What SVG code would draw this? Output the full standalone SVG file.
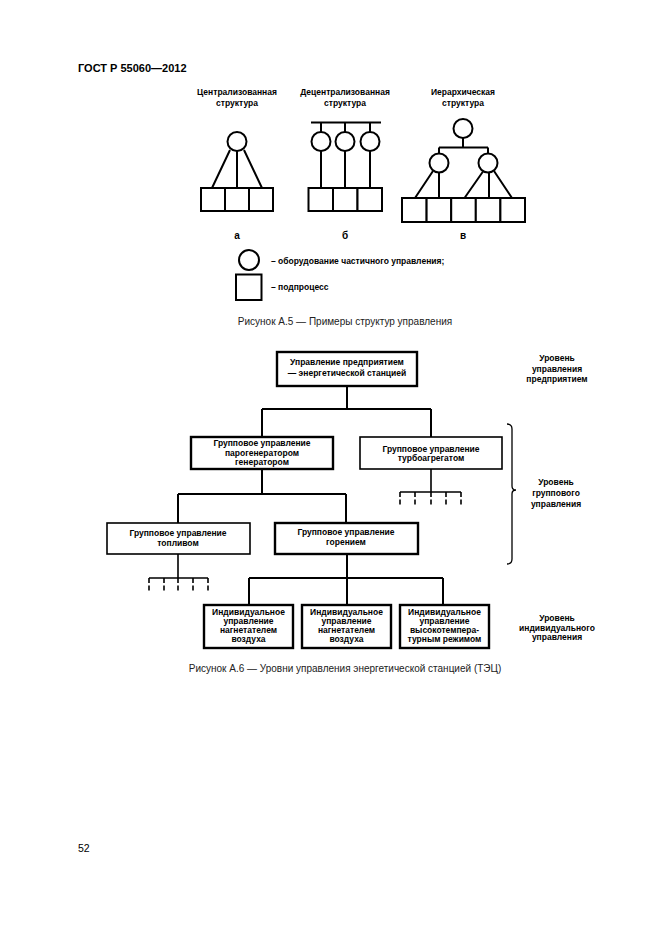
<svg xmlns="http://www.w3.org/2000/svg" width="661" height="935" viewBox="0 0 661 935">
<style>
text { font-family: "Liberation Sans", Arial, sans-serif; fill: #000; }
.b { font-weight: bold; font-size: 8.5px; text-anchor: middle; }
.bl { font-weight: bold; font-size: 8.5px; }
.lab { font-weight: bold; font-size: 10px; text-anchor: middle; }
.cap { font-size: 10px; text-anchor: middle; fill: #222; }
.ln { stroke: #000; stroke-width: 2; fill: none; }
.thin { stroke: #000; stroke-width: 1.6; fill: none; }
.box { fill: #fff; stroke: #000; stroke-width: 2.4; }
.box2 { fill: #fff; stroke: #000; stroke-width: 1.6; }
.sm { fill: #fff; stroke: #000; stroke-width: 2; }
.dash { stroke: #000; stroke-width: 1.6; stroke-dasharray: 5 2.5; fill: none; }
</style>
<rect width="661" height="935" fill="#fff"/>
<text x="78" y="72" style="font-weight:bold;font-size:11px">ГОСТ Р 55060—2012</text>

<!-- Figure A.5 -->
<g id="fig-a">
  <text class="b" x="237" y="95">Централизованная</text>
  <text class="b" x="237" y="106">структура</text>
  <path class="ln" d="M230,150 L212,188 M237,151 L237,188 M244,150 L262,188"/>
  <circle class="sm" cx="237" cy="141.5" r="9.5"/>
  <rect class="sm" x="201" y="188" width="24" height="23"/>
  <rect class="sm" x="225" y="188" width="24" height="23"/>
  <rect class="sm" x="249" y="188" width="24" height="23"/>
  <text class="lab" x="237" y="239">а</text>
</g>
<g id="fig-b">
  <text class="b" x="345" y="95">Децентрализованная</text>
  <text class="b" x="345" y="106">структура</text>
  <path class="ln" d="M311,122.5 L381,122.5 M321,122.5 L321,132 M345,122.5 L345,132 M370,122.5 L370,132 M321,151 L321,188 M345,151 L345,188 M370,151 L370,188"/>
  <circle class="sm" cx="321" cy="141.5" r="9.5"/>
  <circle class="sm" cx="345" cy="141.5" r="9.5"/>
  <circle class="sm" cx="370" cy="141.5" r="9.5"/>
  <rect class="sm" x="308.5" y="188" width="24.5" height="23"/>
  <rect class="sm" x="333" y="188" width="24.5" height="23"/>
  <rect class="sm" x="357.5" y="188" width="24.5" height="23"/>
  <text class="lab" x="345" y="239">б</text>
</g>
<g id="fig-v">
  <text class="b" x="463" y="95">Иерархическая</text>
  <text class="b" x="463" y="106">структура</text>
  <path class="ln" d="M463,138 L463,147.5 M439,147.5 L488,147.5 M439,147.5 L439,154 M488,147.5 L488,154 M433,171 L415,198 M439,172.5 L439,198 M483,171.5 L464.5,198 M489,172.5 L489,198 M494,171 L512,198"/>
  <circle class="sm" cx="463" cy="128.5" r="9.5"/>
  <circle class="sm" cx="439" cy="163" r="9.5"/>
  <circle class="sm" cx="488" cy="163" r="9.5"/>
  <rect class="sm" x="402" y="198" width="24.6" height="24"/>
  <rect class="sm" x="426.6" y="198" width="24.6" height="24"/>
  <rect class="sm" x="451.2" y="198" width="24.6" height="24"/>
  <rect class="sm" x="475.8" y="198" width="24.6" height="24"/>
  <rect class="sm" x="500.4" y="198" width="24.6" height="24"/>
  <text class="lab" x="463" y="239">в</text>
</g>
<g id="legend">
  <circle class="sm" cx="249" cy="260" r="10"/>
  <text class="bl" x="271" y="264">– оборудование частичного управления;</text>
  <rect class="sm" x="236" y="274.5" width="25.5" height="25.5"/>
  <text class="bl" x="271" y="290">– подпроцесс</text>
</g>
<text class="cap" x="345" y="325">Рисунок А.5 — Примеры структур управления</text>

<!-- Figure A.6 -->
<g id="connectors">
  <path class="ln" d="M347,386 L347,409 M262,409 L431,409 M262,409 L262,437 M431,409 L431,437"/>
  <path class="ln" d="M262,469 L262,494 M178,494 L346,494 M178,494 L178,523 M346,494 L346,523"/>
  <path class="thin" d="M431,469 L431,492 M400,492 L461,492"/>
  <path class="dash" d="M400,492 L400,506 M415,492 L415,506 M431,492 L431,506 M446,492 L446,506 M461,492 L461,506"/>
  <path class="thin" d="M178,554 L178,578 M149,578 L208,578"/>
  <path class="dash" d="M149,578 L149,592 M164,578 L164,592 M178,578 L178,592 M193,578 L193,592 M208,578 L208,592"/>
  <path class="ln" d="M347,554 L347,578 M249,578 L443,578 M249,578 L249,605 M347,578 L347,605 M443,578 L443,605"/>
  <path d="M507,424 Q512,424 512,429 L512,486 Q512,490 516,490 Q512,490 512,494 L512,559 Q512,564 507,564" stroke="#000" stroke-width="1.3" fill="none"/>
</g>
<g id="n-enterprise">
  <rect class="box" x="277" y="352" width="140" height="34"/>
  <text class="b" x="347" y="365">Управление предприятием</text>
  <text class="b" x="347" y="376">— энергетической станцией</text>
</g>
<g id="n-steam">
  <rect class="box" x="191" y="437" width="142" height="32"/>
  <text class="b" x="262" y="446">Групповое управление</text>
  <text class="b" x="262" y="455.5">парогенератором</text>
  <text class="b" x="262" y="465">генератором</text>
</g>
<g id="n-turbo">
  <rect class="box2" x="360" y="437" width="142" height="32"/>
  <text class="b" x="431" y="451.5">Групповое управление</text>
  <text class="b" x="431" y="461">турбоагрегатом</text>
</g>
<g id="n-fuel">
  <rect class="box2" x="107" y="523" width="143" height="31"/>
  <text class="b" x="178" y="536">Групповое управление</text>
  <text class="b" x="178" y="546">топливом</text>
</g>
<g id="n-burn">
  <rect class="box" x="275" y="523" width="143" height="31"/>
  <text class="b" x="346" y="535">Групповое управление</text>
  <text class="b" x="346" y="545">горением</text>
</g>
<g id="n-ind1">
  <rect class="box" x="204" y="605" width="89" height="43"/>
  <text class="b" x="248.5" y="615">Индивидуальное</text>
  <text class="b" x="248.5" y="624">управление</text>
  <text class="b" x="248.5" y="633">нагнетателем</text>
  <text class="b" x="248.5" y="642">воздуха</text>
</g>
<g id="n-ind2">
  <rect class="box" x="302" y="605" width="89" height="43"/>
  <text class="b" x="346.5" y="615">Индивидуальное</text>
  <text class="b" x="346.5" y="624">управление</text>
  <text class="b" x="346.5" y="633">нагнетателем</text>
  <text class="b" x="346.5" y="642">воздуха</text>
</g>
<g id="n-ind3">
  <rect class="box" x="400" y="605" width="89" height="43"/>
  <text class="b" x="444.5" y="615">Индивидуальное</text>
  <text class="b" x="444.5" y="624">управление</text>
  <text class="b" x="444.5" y="633">высокотемпера-</text>
  <text class="b" x="444.5" y="642">турным режимом</text>
</g>
<g id="levels">
  <text class="b" x="557" y="361">Уровень</text>
  <text class="b" x="557" y="371.5">управления</text>
  <text class="b" x="557" y="382">предприятием</text>
  <text class="b" x="556" y="485">Уровень</text>
  <text class="b" x="556" y="496">группового</text>
  <text class="b" x="556" y="507">управления</text>
  <text class="b" x="557" y="621">Уровень</text>
  <text class="b" x="557" y="630.5">индивидуального</text>
  <text class="b" x="557" y="640">управления</text>
</g>
<text class="cap" x="345" y="672">Рисунок А.6 — Уровни управления энергетической станцией (ТЭЦ)</text>
<text x="78" y="852" style="font-size:10.5px">52</text>
</svg>
